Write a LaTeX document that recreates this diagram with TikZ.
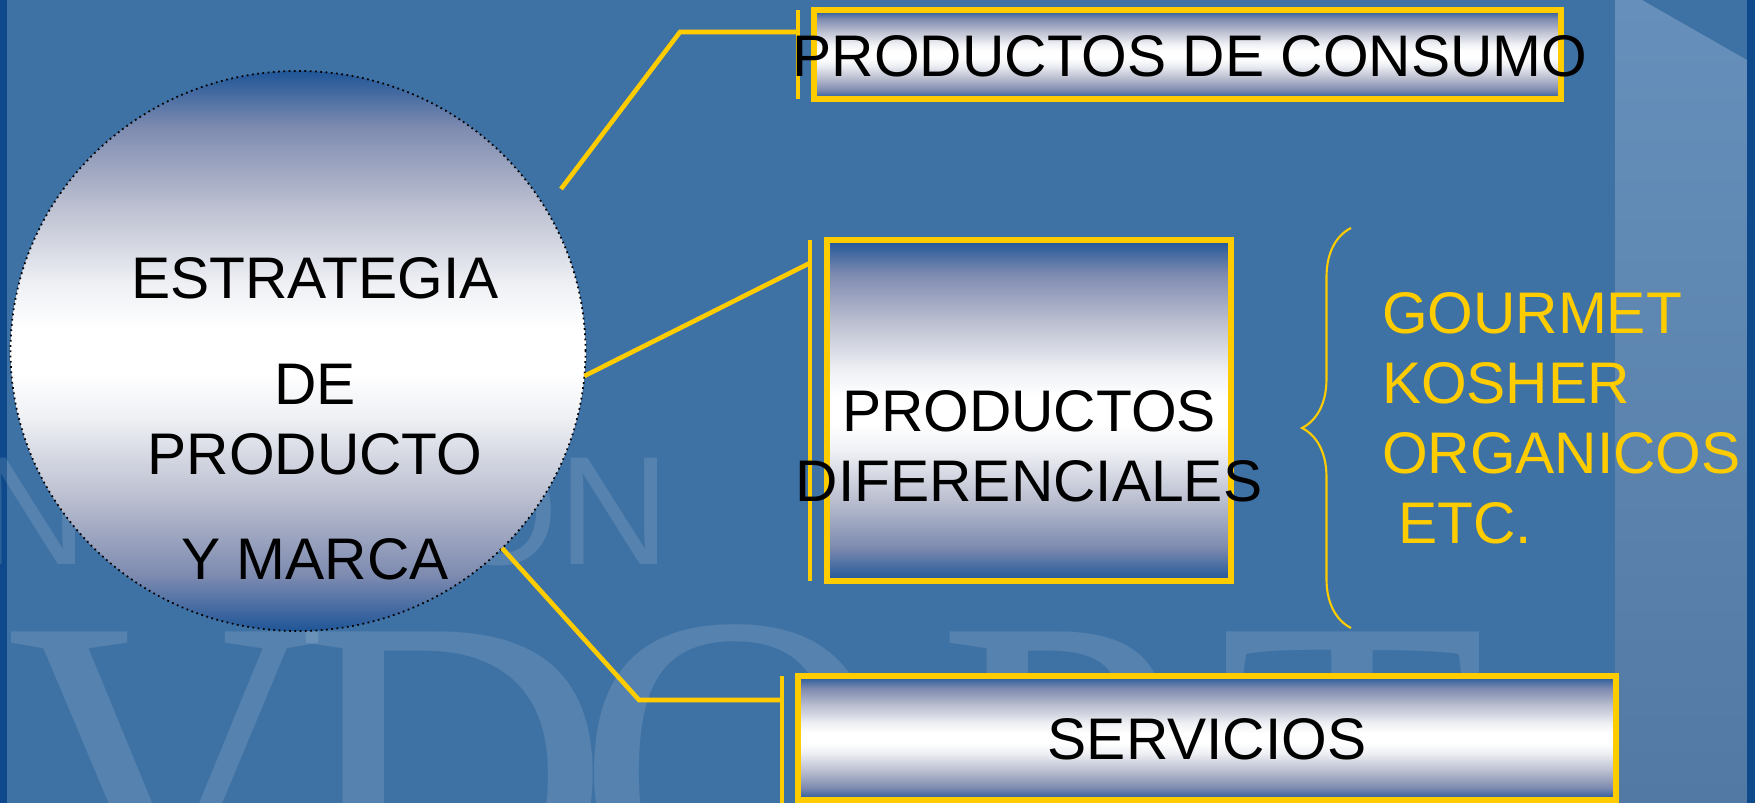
\documentclass[tikz,border=0pt]{standalone}
\usepackage{fontspec}
\setmainfont{Liberation Sans}
\newfontfamily\marcaserif{Liberation Serif}
\usetikzlibrary{positioning,shapes.geometric,decorations.pathreplacing}

\definecolor{fondo}{HTML}{3E71A4}
\definecolor{borde}{HTML}{0E4A8B}
\definecolor{franja}{HTML}{6690BB}
\definecolor{franjab}{HTML}{5279A4}
\definecolor{oscuro}{HTML}{1F5597}
\definecolor{grisa}{HTML}{7E8BB0}
\definecolor{grisb}{HTML}{BBBFD0}
\definecolor{grisc}{HTML}{EEF0F4}
\definecolor{oro}{HTML}{FFCC00}

\pgfdeclareverticalshading{brillo}{100bp}{color(0bp)=(oscuro); color(25bp)=(oscuro);
  color(30bp)=(grisa); color(37bp)=(grisb); color(44bp)=(grisc); color(48bp)=(white);
  color(52bp)=(white); color(56bp)=(grisc); color(63bp)=(grisb); color(70bp)=(grisa);
  color(75bp)=(oscuro); color(100bp)=(oscuro)}

\begin{document}
\begin{tikzpicture}[x=0.1mm,y=-0.1mm,
  every node/.style={inner sep=0pt,outer sep=0pt},
  caja/.style={rectangle,draw=oro,line width=1.5pt,shade,shading=brillo},
  texto/.style={font=\fontsize{16.7}{19.9}\selectfont,text=black,align=center},
  enlace/.style={draw=oro,line width=1.3pt},
  barra/.style={draw=oro,line width=1.4pt},
  marca/.style={text=white,opacity=0.12}]
\useasboundingbox (0,0) rectangle (1755,803);

% fondo
\fill[fondo] (0,0) rectangle (1755,803);
\shade[top color=franja,bottom color=franjab] (1615,0) -- (1642,0) -- (1747,60) -- (1747,803) -- (1615,803) -- cycle;
\fill[borde] (0,0) rectangle (7,803);
\fill[borde] (1747,0) rectangle (1755,803);

% marca de agua
\begin{scope}
\clip (0,0) rectangle (1755,803);
\node[marca,font=\fontsize{44}{44}\selectfont,anchor=base west] (wmn) at (-24,565) {N};
\node[marca,font=\fontsize{44}{44}\selectfont,anchor=base west] (wmon) at (438,565) {ON};
\node[marca,font=\marcaserif\fontsize{125}{125}\selectfont,anchor=north] (wmv) at (165,632) {V};
\node[marca,font=\marcaserif\fontsize{125}{125}\selectfont,anchor=north] (wmd) at (452,632) {D};
\node[marca,font=\marcaserif\fontsize{125}{125}\selectfont,anchor=north] (wmo) at (735,625) {O};
\node[marca,font=\marcaserif\fontsize{125}{125}\selectfont,anchor=north] (wmp) at (1060,632) {P};
\node[marca,font=\marcaserif\fontsize{125}{125}\selectfont,anchor=north] (wmt) at (1353,632) {T};
\end{scope}

% figuras
\node[ellipse,draw=black,densely dotted,line width=0.5pt,shade,shading=brillo,
  minimum width=57.5mm,minimum height=56mm] (estr) at (298,351) {};
\node[caja,minimum width=74.7mm,minimum height=8.9mm] (consumo) at (1187.5,54.5) {};
\node[caja,minimum width=40.4mm,minimum height=34.1mm] (difer) at (1029,410.5) {};
\node[caja,minimum width=81.8mm,minimum height=12.4mm] (serv) at (1207,738) {};

% barras
\coordinate[left=1.6mm of consumo.north west] (b1a);
\coordinate[left=1.6mm of consumo.south west] (b1b);
\coordinate[left=1.7mm of difer.north west] (b2a);
\coordinate[left=1.7mm of difer.south west] (b2b);
\coordinate[left=1.6mm of serv.north west] (b3a);
\coordinate (b3b) at (b3a |- 0,803);
\draw[barra] (b1a) -- (b1b);
\draw[barra] (b2a) -- (b2b);
\draw[barra] (b3a) -- (b3b);

% enlaces
\coordinate (c1) at (561,189);
\coordinate (k1) at (680,32);
\coordinate (k3) at (639,700);
\draw[enlace] (c1) -- (k1) -- (k1 -| b1a);
\draw[enlace] (estr.-5) -- (b2a |- 0,263);
\draw[enlace] (estr.-44) -- (k3) -- (k3 -| b3a);

% llave
\coordinate (ll1) at (1351,628);
\coordinate (ll2) at (1351,228);
\draw[oro,line width=0.6pt,decorate,decoration={brace,amplitude=4.9mm}] (ll1) -- (ll2);

% textos
\node[texto] (estrtxt) at (315,419) {ESTRATEGIA\\[10.2pt]DE\\PRODUCTO\\[10.2pt]Y MARCA};
\node[texto] (consumotxt) at (1190,56) {PRODUCTOS DE CONSUMO};
\node[texto] (difertxt) at (1029,446.5) {PRODUCTOS\\DIFERENCIALES};
\node[texto] (servtxt) at (1207,739) {SERVICIOS};
\node[texto,text=oro,align=left,anchor=west] (tipos) at (1382,418) {GOURMET\\KOSHER\\ORGANICOS\\\mbox{}\ ETC.};
\end{tikzpicture}
\end{document}
